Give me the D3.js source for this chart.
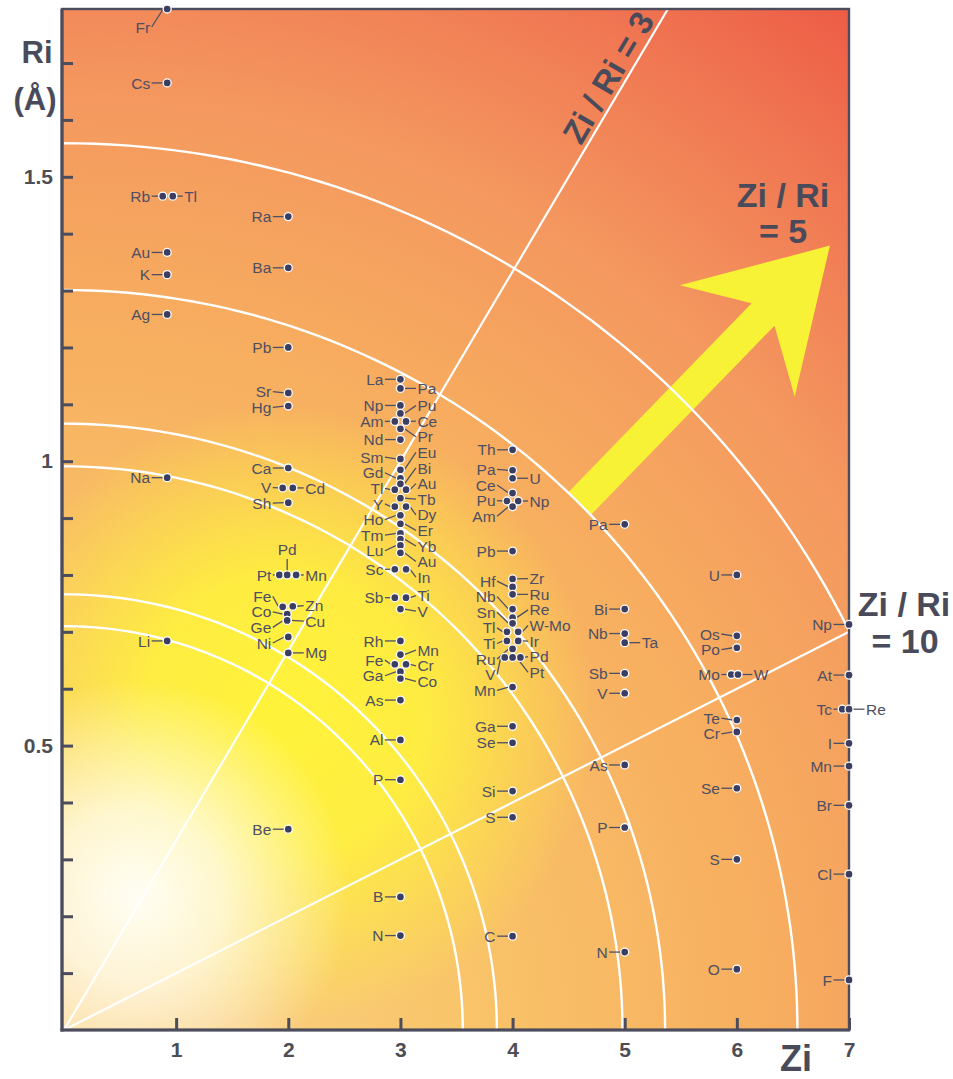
<!DOCTYPE html>
<html><head><meta charset="utf-8">
<script src="https://cdn.jsdelivr.net/npm/d3@7"></script>
<style>body{margin:0;background:#fff}svg{display:block}</style>
</head><body>
<svg id="chart" width="953" height="1079"></svg>
<script>
// ---------- data ----------
const xTicks = [1, 2, 3, 4, 5, 6, 7];
const yTicks = [0.1,0.2,0.3,0.4,0.5,0.6,0.7,0.8,0.9,1,1.1,1.2,1.3,1.4,1.5,1.6,1.7];
const yTickLabels = {0.5: "0.5", 1: "1", 1.5: "1.5"};
const ratioLines = [3, 10];
// arcs: Ri-axis intercept and Zi-axis intercept
const arcRi = [0.710, 0.766, 0.991, 1.066, 1.301, 1.559];
const arcZi = [3.556, 3.86, 4.98, 5.36, 6.54, 7.84];
// ions: [symbol, Zi (as drawn), Ri (Å), label side]
const ionsZ1 = [
  ["Fr",0.92,1.795,"l"],["Cs",0.92,1.665,"l"],["Rb",0.88,1.466,"l"],["Tl",0.97,1.466,"r"],
  ["Au",0.92,1.367,"l"],["K",0.92,1.328,"l"],["Ag",0.92,1.258,"l"],["Na",0.92,0.971,"l"],
  ["Li",0.92,0.684,"l"]
];
const ionsZ2 = [
  ["Ra",2,1.43,"l"],["Ba",2,1.34,"l"],["Pb",2,1.20,"l"],["Sr",2,1.12,"l"],["Hg",2,1.097,"l"],
  ["Ca",2,0.988,"l"],["V",1.95,0.953,"l"],["Cd",2.04,0.953,"r"],["Sh",2,0.927,"l"],
  ["Pt",1.92,0.80,"l"],["Pd",1.99,0.80,"t"],["Mn",2.07,0.80,"r"],
  ["Fe",1.95,0.744,"l"],["Zn",2.04,0.745,"r"],["Co",1.99,0.731,"l"],["Ge",1.99,0.72,"l"],
  ["Cu",1.99,0.72,"r"],["Ni",2,0.691,"l"],["Mg",2,0.663,"r"],["Be",2,0.353,"l"]
];
const ionsZ3 = [
  ["La",3,1.144,"l"],["Pa",3,1.128,"r"],["Np",3,1.098,"l"],["Pu",3,1.084,"r"],
  ["Am",2.95,1.07,"l"],["Ce",3.05,1.07,"r"],["Pr",3,1.057,"r"],["Nd",3,1.038,"l"],
  ["Sm",3,1.004,"l"],["Eu",3,0.985,"r"],["Gd",3,0.97,"l"],["Bi",3,0.96,"r"],
  ["Tl",2.95,0.95,"l"],["Au",3.05,0.95,"r"],["Tb",3,0.935,"r"],["Y",2.95,0.92,"l"],
  ["Dy",3.05,0.92,"r"],["Ho",3,0.905,"l"],["Er",3,0.89,"r"],["Tm",3,0.873,"l"],
  ["Yb",3,0.863,"r"],["Lu",3,0.852,"l"],["Au",3,0.839,"r"],["Sc",2.95,0.81,"l"],
  ["In",3.05,0.81,"r"],["Sb",2.95,0.76,"l"],["Ti",3.05,0.76,"r"],["V",3,0.74,"r"],
  ["Rh",3,0.684,"l"],["Mn",3,0.66,"r"],["Fe",2.95,0.643,"l"],["Cr",3.05,0.643,"r"],
  ["Ga",3,0.63,"l"],["Co",3,0.618,"r"],["As",3,0.58,"l"],["Al",3,0.51,"l"],
  ["P",3,0.44,"l"],["B",3,0.234,"l"],["N",3,0.166,"l"]
];
const ionsZ4 = [
  ["Th",4,1.02,"l"],["Pa",4,0.984,"l"],["U",4,0.97,"r"],["Ce",4,0.944,"l"],
  ["Pu",3.95,0.93,"l"],["Np",4.05,0.93,"r"],["Am",4,0.92,"l"],["Pb",4,0.842,"l"],
  ["Zr",4,0.793,"r"],["Hf",4,0.779,"l"],["Ru",4,0.766,"r"],["Nb",4,0.74,"l"],
  ["Re",4,0.725,"r"],["Sn",4,0.715,"l"],["Tl",3.95,0.70,"l"],["W-Mo",4.05,0.70,"r"],
  ["Ti",3.95,0.684,"l"],["Ir",4.05,0.684,"r"],["Ru",4,0.67,"l"],["V",3.93,0.655,"l"],
  ["Pd",4.07,0.655,"r"],["Pt",4,0.655,"r"],["Mn",4,0.603,"l"],["Ga",4,0.534,"l"],
  ["Se",4,0.505,"l"],["Si",4,0.42,"l"],["S",4,0.374,"l"],["C",4,0.165,"l"]
];
const ionsZ5 = [
  ["Pa",5,0.889,"l"],["Bi",5,0.74,"l"],["Nb",5,0.697,"l"],["Ta",5,0.681,"r"],
  ["Sb",5,0.627,"l"],["V",5,0.592,"l"],["As",5,0.466,"l"],["P",5,0.356,"l"],["N",5,0.137,"l"]
];
const ionsZ6 = [
  ["U",6,0.80,"l"],["Os",6,0.693,"l"],["Po",6,0.672,"l"],["Mo",5.95,0.625,"l"],
  ["W",6.01,0.625,"r"],["Te",6,0.545,"l"],["Cr",6,0.524,"l"],["Se",6,0.425,"l"],
  ["S",6,0.30,"l"],["O",6,0.107,"l"]
];
const ionsZ7 = [
  ["Np",7,0.713,"l"],["At",7,0.624,"l"],["Tc",6.94,0.564,"l"],["Re",7,0.564,"r"],
  ["I",7,0.504,"l"],["Mn",7,0.464,"l"],["Br",7,0.395,"l"],["Cl",7,0.274,"l"],["F",7,0.088,"l"]
];
// arrow annotation (Zi, Ri) tail and tip
const arrowTail = [4.6, 0.926];
const arrowTip = [6.83, 1.379];

// ---------- chart ----------
const svg = d3.select("#chart");
const x = d3.scaleLinear([0, 7], [64, 849]);
const y = d3.scaleLinear([0, 1.795], [1030, 9]);
const PL = 62, PR = 849, PT = 9, PB = 1030;
const ink = "#4b4c5c";
const FONT = "'Liberation Sans', Arial, Helvetica, sans-serif";

const defs = svg.append("defs");
const g0 = defs.append("radialGradient").attr("id","base").attr("gradientUnits","userSpaceOnUse")
  .attr("cx",64).attr("cy",1030).attr("r",1300);
[[0,"#fbd48c"],[0.3,"#f9c56a"],[0.55,"#f7ad5f"],[0.72,"#f4985f"],[0.88,"#f07652"],[1,"#ed5a45"]]
  .forEach(([o,c])=>g0.append("stop").attr("offset",o).attr("stop-color",c));
const g1 = defs.append("radialGradient").attr("id","yel").attr("gradientUnits","userSpaceOnUse")
  .attr("cx",285).attr("cy",715).attr("r",310);
[[0,"#fff33a",1],[0.45,"#fff23c",0.88],[1,"#fff23c",0]]
  .forEach(([o,c,a])=>g1.append("stop").attr("offset",o).attr("stop-color",c).attr("stop-opacity",a));
const g2 = defs.append("radialGradient").attr("id","wht").attr("gradientUnits","userSpaceOnUse")
  .attr("cx",135).attr("cy",895).attr("r",215);
[[0,"#fffef4",1],[0.4,"#fffcec",0.8],[1,"#fffcec",0]]
  .forEach(([o,c,a])=>g2.append("stop").attr("offset",o).attr("stop-color",c).attr("stop-opacity",a));
defs.append("clipPath").attr("id","plotclip").append("rect")
  .attr("x",PL).attr("y",PT).attr("width",PR-PL).attr("height",PB-PT);

const bg = svg.append("g").attr("clip-path","url(#plotclip)");
["base","yel","wht"].forEach(id =>
  bg.append("rect").attr("x",PL).attr("y",PT).attr("width",PR-PL).attr("height",PB-PT).attr("fill",`url(#${id})`));

// arrow
{
  const tx = x(arrowTail[0]), ty = y(arrowTail[1]);
  const hx = x(arrowTip[0]), hy = y(arrowTip[1]);
  const L = Math.hypot(hx-tx, hy-ty), ux = (hx-tx)/L, uy = (hy-ty)/L, nx = -uy, ny = ux;
  const loc = [[0,-16],[L-96,-16],[L-133,-80],[L,0],[L-133,80],[L-96,16],[0,16]];
  const pts = loc.map(([u,v]) => [tx+u*ux+v*nx, ty+u*uy+v*ny]);
  bg.append("path").attr("d", "M"+pts.map(p=>p.join(",")).join("L")+"Z").attr("fill","#f7f236");
}

// arcs
const arcLine = d3.line();
arcRi.forEach((ry,i) => {
  const rx = arcZi[i];
  const pts = d3.range(0, 90.5, 1).map(t => [x(rx*Math.cos(t*Math.PI/180)), y(ry*Math.sin(t*Math.PI/180))]);
  bg.append("path").attr("d", arcLine(pts)).attr("fill","none").attr("stroke","#fff").attr("stroke-width",2.4);
});
// ratio lines
ratioLines.forEach(k => {
  const zEnd = Math.min(7, k*1.795);
  bg.append("line").attr("x1",x(0)).attr("y1",y(0)).attr("x2",x(zEnd)).attr("y2",y(zEnd/k))
    .attr("stroke","#fff").attr("stroke-width",2.2);
});

// axes
const yAxis = d3.axisLeft(y).tickValues(yTicks).tickSize(-11).tickSizeOuter(0).tickPadding(9)
  .tickFormat(d => yTickLabels[d] || "");
const ga = svg.append("g").attr("transform",`translate(${PL},0)`).call(yAxis);
const xAxis = d3.axisBottom(x).tickValues(xTicks).tickSize(-12).tickSizeOuter(0).tickPadding(12)
  .tickFormat(d3.format("d"));
const gx = svg.append("g").attr("transform",`translate(0,${PB})`).call(xAxis);
[ga, gx].forEach(g => {
  g.select(".domain").remove();
  g.selectAll(".tick line").attr("stroke", ink).attr("stroke-width", 3);
  g.selectAll(".tick text").attr("fill","#4d4d55").attr("font-family",FONT)
    .attr("font-weight","bold").attr("font-size",21);
});
// frame
svg.append("rect").attr("x",PL).attr("y",PT).attr("width",PR-PL).attr("height",PB-PT)
  .attr("fill","none").attr("stroke",ink).attr("stroke-width",2.4);
svg.append("line").attr("x1",PL).attr("x2",PL).attr("y1",PT).attr("y2",PB+1.5).attr("stroke",ink).attr("stroke-width",3.2);
svg.append("line").attr("x1",PL-1.5).attr("x2",PR+1.2).attr("y1",PB).attr("y2",PB).attr("stroke",ink).attr("stroke-width",3.2);

// ions
const ions = [ionsZ1, ionsZ2, ionsZ3, ionsZ4, ionsZ5, ionsZ6, ionsZ7].flat()
  .map(([name, zi, ri, side]) => ({name, zi, ri, side, col: Math.round(zi), px: x(zi), py: y(ri)}));
const colX = d3.rollup(ions, v => d3.median(v, d => d.px), d => d.col);
const GAP = 15.6, TOP = PT + 18;
d3.group(ions.filter(d => d.side !== "t"), d => d.col + d.side).forEach(g => {
  g.sort((a,b) => a.py - b.py);
  g.forEach(d => d.ly = Math.max(d.py, TOP));
  for (let it = 0; it < 500; it++) {
    for (let i = 1; i < g.length; i++) {
      const a = g[i-1], b = g[i], ov = GAP - (b.ly - a.ly);
      if (ov > 0) { a.ly -= ov/2; b.ly += ov/2; }
    }
    g.forEach(d => d.ly = Math.max(d.ly, TOP));
  }
});
const lab = svg.append("g").attr("font-family",FONT).attr("font-size",15.5).attr("fill","#4e4f63");
const lead = svg.append("g").attr("stroke","#4e4f63").attr("stroke-width",1.3);
ions.forEach(d => {
  const cx = colX.get(d.col);
  if (d.side === "l") {
    const te = cx - 17;
    lab.append("text").attr("x", te).attr("y", d.ly).attr("dy","0.36em").attr("text-anchor","end").text(d.name);
    lead.append("line").attr("x1", te + 1.5).attr("y1", d.ly).attr("x2", d.px - 4).attr("y2", d.py);
  } else if (d.side === "r") {
    const ts = cx + 17;
    lab.append("text").attr("x", ts).attr("y", d.ly).attr("dy","0.36em").text(d.name);
    lead.append("line").attr("x1", ts - 1.5).attr("y1", d.ly).attr("x2", d.px + 4).attr("y2", d.py);
  } else {
    lab.append("text").attr("x", d.px).attr("y", d.py - 20).attr("text-anchor","middle").text(d.name);
    lead.append("line").attr("x1", d.px).attr("y1", d.py - 16).attr("x2", d.px).attr("y2", d.py - 4);
  }
});
svg.append("g").selectAll("circle").data(ions).join("circle")
  .attr("cx", d => d.px).attr("cy", d => d.py).attr("r", 4)
  .attr("fill","#3b3e60").attr("stroke","#fff").attr("stroke-width",1.3);

// axis titles and annotations
const T = svg.append("g").attr("font-family",FONT).attr("font-weight","bold").attr("fill","#4a4b5a");
T.append("text").attr("x",37).attr("y",63).attr("text-anchor","middle").attr("font-size",31).text("Ri");
T.append("text").attr("x",35).attr("y",110).attr("text-anchor","middle").attr("font-size",31).text("(Å)");
T.append("text").attr("x",796).attr("y",1071).attr("text-anchor","middle").attr("font-size",36).text("Zi");
{
  const k = 3, z = 4.98;
  const ang = Math.atan2(y(1/k) - y(0), x(1) - x(0)) * 180 / Math.PI;
  T.append("text").attr("transform",`translate(${x(z)},${y(z/k)}) rotate(${ang})`)
    .attr("text-anchor","middle").attr("dy",-5).attr("font-size",33).text("Zi / Ri = 3");
}
T.append("text").attr("x",783).attr("y",207).attr("text-anchor","middle").attr("font-size",34).text("Zi / Ri");
T.append("text").attr("x",783).attr("y",243).attr("text-anchor","middle").attr("font-size",34).text("= 5");
T.append("text").attr("x",904).attr("y",616).attr("text-anchor","middle").attr("font-size",34).text("Zi / Ri");
T.append("text").attr("x",905).attr("y",653).attr("text-anchor","middle").attr("font-size",34).text("= 10");
</script>
</body></html>
